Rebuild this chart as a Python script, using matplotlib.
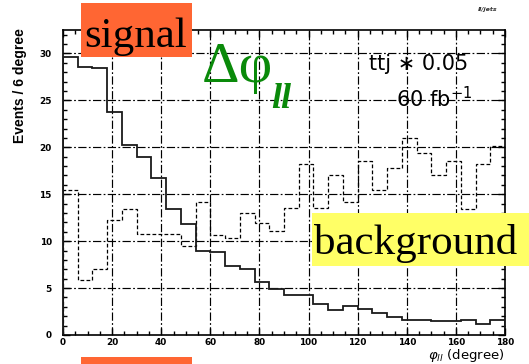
import matplotlib
matplotlib.use("Agg")
import matplotlib.pyplot as plt
from matplotlib.patches import Rectangle
from matplotlib.ticker import MultipleLocator
import numpy as np

# Distribution of the lepton-pair opening angle, 6 degree bins from 0 to 180
bin_edges = np.arange(0, 181, 6)

signal = [29.6, 28.6, 28.4, 23.8, 20.2, 18.95, 16.7, 13.4, 11.8, 9.0,
          8.8, 7.3, 7.0, 5.65, 4.87, 4.3, 4.3, 3.35, 2.65, 3.1,
          2.8, 2.3, 1.95, 1.65, 1.65, 1.45, 1.45, 1.55, 1.15, 1.55]

background = [15.45, 5.9, 7.05, 12.25, 13.45, 10.75, 10.75, 10.75, 9.45, 14.2,
              10.7, 10.3, 13.0, 11.9, 11.1, 13.5, 18.25, 13.5, 17.05, 14.2,
              18.5, 15.45, 17.75, 20.95, 19.4, 17.05, 18.5, 13.45, 18.25, 20.1]

x_ticks = [0, 20, 40, 60, 80, 100, 120, 140, 160, 180]
y_ticks = [0, 5, 10, 15, 20, 25, 30]

W, H = 529, 364
fig = plt.figure(figsize=(W / 100, H / 100), dpi=100)
fig.patch.set_facecolor("white")


def fpos(px, py):
    """Pixel position (from top-left) to figure fraction."""
    return px / W, 1 - py / H


ax = fig.add_axes([63 / W, 1 - 335 / H, (505 - 63) / W, (335 - 30) / H])
ax.set_xlim(0, 180)
ax.set_ylim(0, 32.5)

# dash-dot grid at the major ticks
grid_style = dict(color="black", lw=0.85, ls=(0, (7, 2, 1.5, 2)), zorder=1)
for gx in x_ticks[1:-1]:
    ax.axvline(gx, **grid_style)
for gy in y_ticks[1:]:
    ax.axhline(gy, **grid_style)

ax.stairs(background, bin_edges, color="black", lw=0.9, ls=(0, (3, 1.8)), zorder=3)
ax.stairs(signal, bin_edges, color="#1a1a1a", lw=1.3, zorder=4)

ax.set_xticks(x_ticks)
ax.set_yticks(y_ticks)
ax.xaxis.set_minor_locator(MultipleLocator(5))
ax.yaxis.set_minor_locator(MultipleLocator(1))
ax.tick_params(which="both", direction="in", top=True, right=True, width=1.0)
ax.tick_params(which="major", length=5)
ax.tick_params(which="minor", length=3)
ax.tick_params(axis="y", which="major", pad=8)
ax.tick_params(axis="x", which="major", pad=2.5)
for lab in ax.get_xticklabels() + ax.get_yticklabels():
    lab.set_fontfamily("DejaVu Sans")
    lab.set_fontweight("bold")
    lab.set_fontsize(6.4)
for sp in ax.spines.values():
    sp.set_linewidth(1.2)

# axis titles
fig.text(*fpos(504, 359), r"$\varphi_{ll}$ (degree)", ha="right", va="baseline",
         fontsize=9.5, fontfamily="DejaVu Sans")
fig.text(*fpos(20, 86), "Events / 6 degree", rotation=90, ha="center", va="center",
         fontsize=10, fontfamily="Liberation Sans", fontweight="bold")

# annotations inside the frame
fig.text(*fpos(369, 70), "ttj \u2217 0.05", ha="left", va="baseline",
         fontsize=15, fontfamily="DejaVu Sans")
fig.text(*fpos(396, 107), r"60 fb$^{-1}$", ha="left", va="baseline",
         fontsize=15, fontfamily="DejaVu Sans")
fig.text(*fpos(478, 9), "ll/jets", ha="left", va="center", fontsize=4.5,
         fontstyle="italic", fontweight="bold", color="#333333")

# green Delta-phi_ll label
green = "#0a8a0a"
fig.text(*fpos(202, 82), "\u0394\u03c6", ha="left", va="baseline", color=green,
         fontsize=42, fontfamily="Liberation Serif")
fig.text(*fpos(271, 108), "ll", ha="left", va="baseline", color=green,
         fontsize=26, fontfamily="Liberation Serif", fontstyle="italic",
         fontweight="bold")

# coloured caption boxes
def caption_box(x0, y0, x1, y1, color):
    fx0, fy1 = fpos(x0, y0)
    fx1, fy0 = fpos(x1, y1)
    fig.patches.append(Rectangle((fx0, fy0), fx1 - fx0, fy1 - fy0,
                                 transform=fig.transFigure, facecolor=color,
                                 edgecolor="none", zorder=5))

caption_box(81, 3, 192, 57, "#ff6633")
fig.text(*fpos(84, 47), "signal", ha="left", va="baseline", fontsize=31,
         fontfamily="Liberation Serif", color="black", zorder=6)

caption_box(312, 213, 529, 266, "#ffff66")
fig.text(*fpos(314, 254), "background", ha="left", va="baseline", fontsize=31,
         fontfamily="Liberation Serif", color="black", zorder=6)

caption_box(81, 357, 192, 364, "#ff6633")

fig.savefig("out.png", dpi=100, facecolor="white")
